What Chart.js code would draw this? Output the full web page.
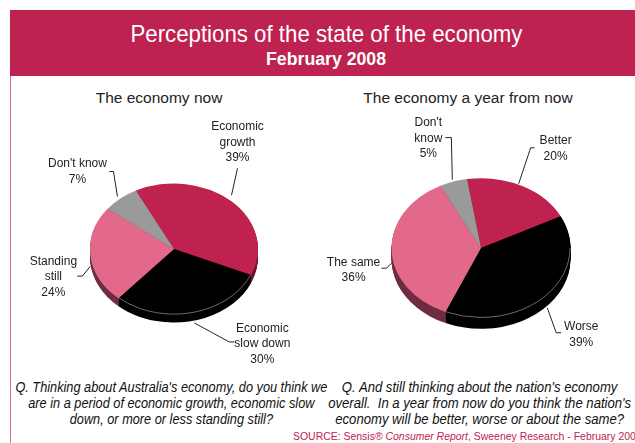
<!DOCTYPE html>
<html>
<head>
<meta charset="utf-8">
<script src="https://cdn.jsdelivr.net/npm/chart.js@4.4.1/dist/chart.umd.min.js"></script>
<style>
  html, body { margin: 0; padding: 0; background: #fff; }
  body { width: 635px; height: 443px; position: relative; overflow: hidden; font-family: "Liberation Sans", Arial, sans-serif; color: #222; }
  #frame { position: absolute; left: 10px; top: 76px; width: 0; height: 367px; border-left: 1.5px solid #cf6f8d; }
  #band { position: absolute; left: 10px; top: 10px; width: 625px; height: 66px; background: #be2250; }
  .title { position: absolute; left: 0; width: 653px; text-align: center; color: #fff; white-space: nowrap; }
  .title span, .q span { display: inline-block; transform-origin: 50% 50%; }
  #t1 { top: 22px; font: 24px/24px "Liberation Sans", Arial, sans-serif; }
  #t2 { top: 50px; font: bold 18px/18px "Liberation Sans", Arial, sans-serif; }
  .sub { position: absolute; top: 89px; font-size: 15.5px; line-height: 18px; text-align: center; white-space: nowrap; }
  canvas { position: absolute; }
  .q { position: absolute; top: 379px; font: italic 14px/16px "Liberation Sans", Arial, sans-serif; text-align: center; white-space: nowrap; color: #111; }
  #src { position: absolute; left: 293px; top: 430px; font-size: 11px; line-height: 13px; color: #be2250; white-space: nowrap; transform: scaleX(0.95); transform-origin: 0 50%; }
</style>
</head>
<body>
<div id="band"></div>
<div id="frame"></div>
<div class="title" id="t1"><span data-fit="392">Perceptions of the state of the economy</span></div>
<div class="title" id="t2"><span data-fit="120">February 2008</span></div>
<div class="sub" style="left:59px;width:200px">The economy now</div>
<div class="sub" style="left:358px;width:220px">The economy a year from now</div>
<canvas id="nowChart" width="305" height="290" style="left:10px;top:80px"></canvas>
<canvas id="aheadChart" width="320" height="290" style="left:315px;top:80px"></canvas>
<div class="q" style="left:0;width:340px"><span data-fit="312">Q. Thinking about Australia's economy, do you think we<br>are in a period of economic growth, economic slow<br>down, or more or less standing still?</span></div>
<div class="q" style="left:318px;width:320px"><span data-fit="303">Q. And still thinking about the nation's economy<br>overall.&nbsp; In a year from now do you think the nation's<br>economy will be better, worse or about the same?</span></div>
<div id="src">SOURCE: Sensis® <i>Consumer Report</i>, Sweeney Research - February 2008</div>

<script>
// The economy now
const nowLabels = [['Economic', 'growth'], ['Economic', 'slow down'], ['Standing', 'still'], ["Don't know"]];
const nowValues = [39, 30, 24, 7];

// The economy a year from now
const aheadLabels = [['Better'], ['Worse'], ['The same'], ["Don't", 'know']];
const aheadValues = [20, 39, 36, 5];

const CRIMSON = '#c02250';
const PINK = '#e3698a';
const GREY = '#9a9a9a';
const BLACK = '#000000';

// no condensed face installed, so squeeze the headline text horizontally
document.querySelectorAll('[data-fit]').forEach(el => {
  const w = el.getBoundingClientRect().width;
  el.style.transform = `scaleX(${Number(el.dataset.fit) / w})`;
});

// squash the pie into an ellipse and extrude a darker wall under it
const tiltPlugin = {
  id: 'tilt',
  beforeDatasetsDraw(chart, args, opts) {
    const ctx = chart.ctx;
    const arcs = chart.getDatasetMeta(0).data;
    const { x, y } = arcs[0];
    ctx.save();
    ctx.translate(x, y);
    ctx.scale(1, opts.squash);
    ctx.translate(-x, -y);
    for (let d = opts.depth; d > 0; d--) {
      const dy = d / opts.squash;
      arcs.forEach((arc, i) => {
        ctx.beginPath();
        ctx.moveTo(x, y + dy);
        ctx.arc(x, y + dy, arc.outerRadius, arc.startAngle, arc.endAngle);
        ctx.closePath();
        ctx.fillStyle = opts.sideColors[i];
        ctx.fill();
      });
    }
  },
  afterDatasetsDraw(chart, args, opts) {
    const ctx = chart.ctx;
    const arcs = chart.getDatasetMeta(0).data;
    // faint rim where the black face meets its wall
    arcs.forEach((arc, i) => {
      if (!opts.rimColors[i]) return;
      const a0 = Math.max(arc.startAngle, 0);
      const a1 = Math.min(arc.endAngle, Math.PI);
      if (a1 <= a0) return;
      ctx.beginPath();
      ctx.arc(arc.x, arc.y, arc.outerRadius - 0.5, a0, a1);
      ctx.strokeStyle = opts.rimColors[i];
      ctx.lineWidth = 1;
      ctx.stroke();
    });
    ctx.restore();
  }
};

// labels with leader lines, hung off the middle of each slice's edge
const calloutPlugin = {
  id: 'callouts',
  afterDraw(chart, args, opts) {
    const ctx = chart.ctx;
    const squash = chart.options.plugins.tilt.squash;
    const labels = chart.data.labels;
    const values = chart.data.datasets[0].data;
    chart.getDatasetMeta(0).data.forEach((arc, i) => {
      const mid = (arc.startAngle + arc.endAngle) / 2;
      const ax = arc.x + arc.outerRadius * Math.cos(mid);
      const ay = arc.y + arc.outerRadius * squash * Math.sin(mid);
      const place = opts.placement[i];

      ctx.save();
      ctx.strokeStyle = '#222';
      ctx.lineWidth = 1;
      ctx.beginPath();
      place.lead.forEach(([dx, dy], j) => {
        if (j === 0) ctx.moveTo(ax + dx, ay + dy);
        else ctx.lineTo(ax + dx, ay + dy);
      });
      ctx.stroke();

      const lines = [...labels[i], values[i] + '%'];
      const lh = 15.5;
      const tx = ax + place.text[0];
      const ty = ay + place.text[1] - (lines.length - 1) * lh / 2;
      ctx.fillStyle = '#222';
      ctx.font = '12px "Liberation Sans", Arial, sans-serif';
      ctx.textAlign = 'center';
      ctx.textBaseline = 'middle';
      lines.forEach((line, j) => ctx.fillText(line, tx, ty + j * lh));
      ctx.restore();
    });
  }
};

function makePie(canvasId, labels, values, cfg) {
  return new Chart(document.getElementById(canvasId), {
    type: 'pie',
    data: {
      labels: labels,
      datasets: [{
        data: values,
        backgroundColor: [CRIMSON, BLACK, PINK, GREY].slice(0, values.length),
        borderWidth: 0,
        radius: cfg.radius,
        rotation: cfg.rotation,
      }],
    },
    options: {
      responsive: false,
      animation: false,
      devicePixelRatio: 1,
      layout: { padding: cfg.padding },
      plugins: {
        legend: { display: false },
        tooltip: { enabled: false },
        tilt: { squash: 0.78, depth: cfg.depth, sideColors: cfg.sideColors, rimColors: cfg.rimColors },
        callouts: { placement: cfg.placement },
      },
    },
    plugins: [tiltPlugin, calloutPlugin],
  });
}

makePie('nowChart', nowLabels, nowValues, {
  radius: 84,
  rotation: -27,
  depth: 8,
  padding: { left: 64, right: 41, top: 69, bottom: 21 },
  sideColors: ['#6e1430', '#000000', '#6e2d41', '#555555'],
  rimColors: [null, '#777777', null, null],
  placement: [
    { lead: [[0, -6], [6, -33]], text: [6, -59] },
    { lead: [[2, 10], [37, 29], [42, 29]], text: [70, 31] },
    { lead: [[0, 11], [-8, 21], [-13, 21]], text: [-37, 22] },
    { lead: [[-3, -2], [-7, -27], [-11, -27]], text: [-43, -27] },
  ],
});

makePie('aheadChart', aheadLabels, aheadValues, {
  radius: 89.5,
  rotation: -9,
  depth: 11,
  padding: { left: 66, right: 54, top: 68, bottom: 22 },
  sideColors: ['#6e1430', '#000000', '#6e2d41', '#555555'],
  rimColors: [null, '#777777', null, null],
  placement: [
    { lead: [[-3, -2], [9, -38], [13, -38]], text: [34, -37] },
    { lead: [[1, 12], [10, 37], [15, 37]], text: [35, 39] },
    { lead: [[0, 13], [-5, 18], [-10, 18]], text: [-38, 20] },
    { lead: [[-1, -2], [-2, -44], [-8, -44]], text: [-25, -43] },
  ],
});
</script>
</body>
</html>
